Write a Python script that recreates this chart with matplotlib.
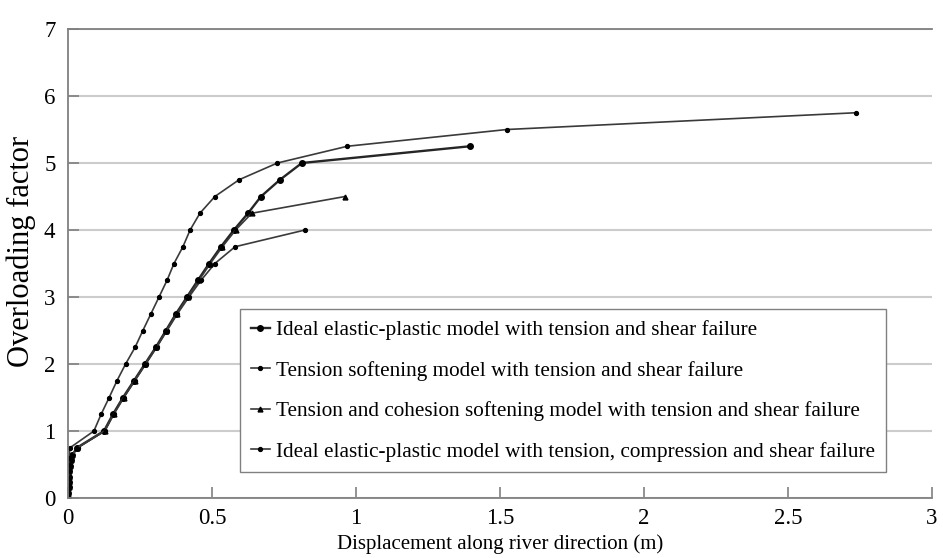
import matplotlib.pyplot as plt

plt.rcParams['font.family'] = ['Liberation Serif', 'DejaVu Serif']

# overloading factor (y) and displacement (x) for each model
y1 = [0, 0.08, 0.16, 0.24, 0.32, 0.40, 0.48, 0.56, 0.64, 0.75, 1.0, 1.25, 1.5, 1.75,
      2.0, 2.25, 2.5, 2.75, 3.0, 3.25, 3.5, 3.75, 4.0, 4.25, 4.5, 4.75, 5.0, 5.25]
x1 = [0, 0.001, 0.002, 0.003, 0.004, 0.005, 0.007, 0.010, 0.015, 0.031, 0.125, 0.156,
      0.191, 0.229, 0.267, 0.305, 0.340, 0.375, 0.413, 0.451, 0.490, 0.531, 0.576,
      0.625, 0.670, 0.736, 0.812, 1.396]

y2 = [0, 0.08, 0.16, 0.24, 0.32, 0.40, 0.48, 0.56, 0.64, 0.75, 1.0, 1.25, 1.5, 1.75,
      2.0, 2.25, 2.5, 2.75, 3.0, 3.25, 3.5, 3.75, 4.0]
x2 = [0, 0.001, 0.002, 0.003, 0.004, 0.005, 0.007, 0.010, 0.015, 0.033, 0.128, 0.159,
      0.194, 0.232, 0.270, 0.308, 0.344, 0.380, 0.420, 0.462, 0.510, 0.580, 0.823]

y3 = [0, 0.08, 0.16, 0.24, 0.32, 0.40, 0.48, 0.56, 0.64, 0.75, 1.0, 1.25, 1.5, 1.75,
      2.0, 2.25, 2.5, 2.75, 3.0, 3.25, 3.5, 3.75, 4.0, 4.25, 4.5]
x3 = [0, 0.001, 0.002, 0.003, 0.004, 0.005, 0.007, 0.010, 0.015, 0.032, 0.127, 0.158,
      0.193, 0.231, 0.269, 0.307, 0.342, 0.378, 0.416, 0.455, 0.494, 0.536, 0.582,
      0.638, 0.962]

y4 = [0, 0.1, 0.2, 0.3, 0.4, 0.5, 0.6, 0.75, 1.0, 1.25, 1.5, 1.75, 2.0, 2.25, 2.5,
      2.75, 3.0, 3.25, 3.5, 3.75, 4.0, 4.25, 4.5, 4.75, 5.0, 5.25, 5.5, 5.75]
x4 = [0, 0.0, 0.001, 0.001, 0.002, 0.002, 0.003, 0.007, 0.090, 0.115, 0.143, 0.170,
      0.200, 0.233, 0.260, 0.288, 0.316, 0.344, 0.368, 0.399, 0.424, 0.458, 0.510,
      0.594, 0.727, 0.970, 1.524, 2.735]

labels = ["Ideal elastic-plastic model with tension and shear failure",
          "Tension softening model with tension and shear failure",
          "Tension and cohesion softening model with tension and shear failure",
          "Ideal elastic-plastic model with tension, compression and shear failure"]

fig = plt.figure(figsize=(9.43, 5.58), dpi=100)
ax = fig.add_axes([68 / 943, 60 / 558, 864 / 943, 469 / 558])

line_col = '#3a3a3a'
ax.plot(x1, y1, color='#262626', lw=1.7, marker='o', ms=4, mfc='black', mec='black', label=labels[0])
ax.plot(x2, y2, color=line_col, lw=1.2, marker='o', ms=2.8, mfc='black', mec='black', label=labels[1])
ax.plot(x3, y3, color=line_col, lw=1.2, marker='^', ms=3.5, mfc='black', mec='black', label=labels[2])
ax.plot(x4, y4, color=line_col, lw=1.2, marker='o', ms=2.8, mfc='black', mec='black', label=labels[3])

ax.set_xlim(0, 3)
ax.set_ylim(0, 7)
ax.set_xticks([0, 0.5, 1, 1.5, 2, 2.5, 3])
ax.set_xticklabels(['0', '0.5', '1', '1.5', '2', '2.5', '3'])
ax.set_yticks(range(8))
ax.yaxis.grid(True, color='#cccccc', lw=1.5)
ax.set_axisbelow(True)
ax.tick_params(direction='in', length=8, width=1.2, color='#808080', labelsize=16.5)
ax.tick_params(axis='x', pad=7)
ax.tick_params(axis='y', pad=9)
for s in ['left', 'bottom', 'top']:
    ax.spines[s].set_color('#808080')
    ax.spines[s].set_linewidth(1.3)
ax.spines['right'].set_visible(False)

ax.set_xlabel("Displacement along river direction (m)", fontsize=15)
ax.set_ylabel("Overloading factor", fontsize=22)
ax.xaxis.set_label_coords(0.5, -0.077)
ax.yaxis.set_label_coords(-0.037, 0.525)

leg = ax.legend(loc='lower left', bbox_to_anchor=(0.199, 0.055), fontsize=15.3,
                handlelength=0.9, handletextpad=0.3, labelspacing=0.97,
                fancybox=False, framealpha=1, edgecolor='#808080', borderpad=0.5,
                borderaxespad=0)
leg.get_frame().set_linewidth(1.0)

plt.savefig('out.png', dpi=100)
